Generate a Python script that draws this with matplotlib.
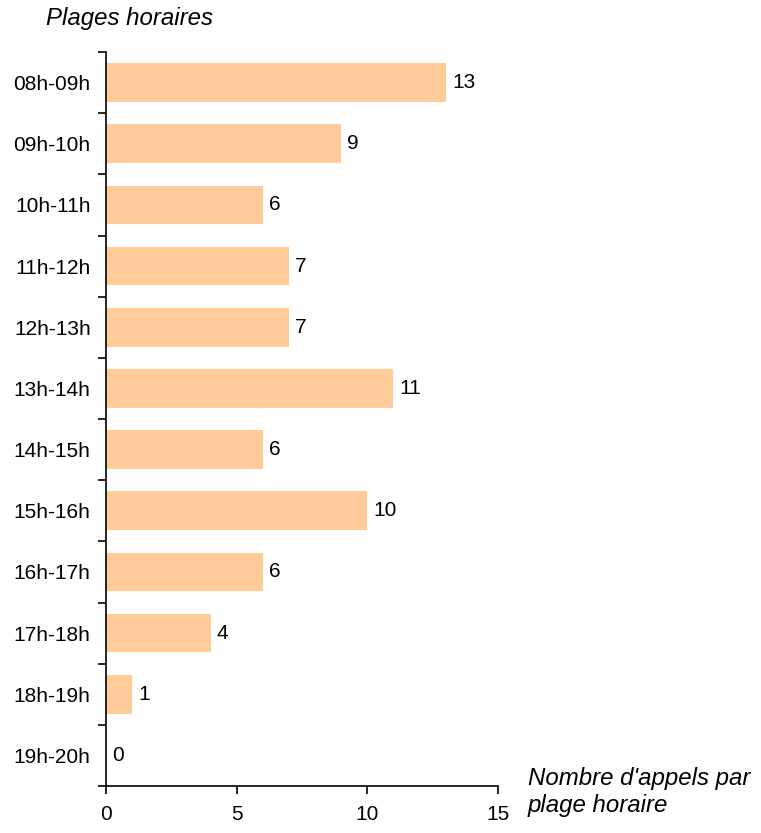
import matplotlib
matplotlib.use("Agg")
import matplotlib.pyplot as plt
import numpy as np

plt.rcParams['font.family'] = ['Liberation Sans', 'DejaVu Sans']

plages = ["08h-09h", "09h-10h", "10h-11h", "11h-12h", "12h-13h", "13h-14h",
          "14h-15h", "15h-16h", "16h-17h", "17h-18h", "18h-19h", "19h-20h"]
appels = [13, 9, 6, 7, 7, 11, 6, 10, 6, 4, 1, 0]
xticks = [0, 5, 10, 15]

fig = plt.figure(figsize=(7.61, 8.33), dpi=100)
ax = fig.add_axes([106/761, 47/833, 392/761, 734/833])

y = np.arange(len(plages))
ax.barh(y, appels, height=0.63, color="#FFCC99", zorder=2)
for yi, v in zip(y, appels):
    ax.annotate(str(v), (v, yi), xytext=(4.5, 0), textcoords="offset points",
                va="center", ha="left", fontsize=15)

ax.set_ylim(len(plages) - 0.5, -0.5)
ax.set_xlim(0, 15)
ax.set_xticks(xticks)
ax.set_yticks(y)
ax.set_yticklabels(plages)
ax.set_yticks(np.arange(len(plages) + 1) - 0.5, minor=True)
ax.tick_params(axis='y', which='major', length=0, pad=11, labelsize=15)
ax.tick_params(axis='y', which='minor', length=6, width=1.2, direction='out')
ax.tick_params(axis='x', length=6, width=1.2, direction='out', pad=8, labelsize=15)
ax.spines['top'].set_visible(False)
ax.spines['right'].set_visible(False)
ax.spines['left'].set_linewidth(1.2)
ax.spines['bottom'].set_linewidth(1.2)

fig.text(46/761, 1 - 18/833, "Plages horaires", fontsize=17.3, style='italic',
         ha='left', va='center')
fig.text(528/761, 1 - 792/833, "Nombre d'appels par\nplage horaire", fontsize=17.3,
         style='italic', ha='left', va='center', linespacing=1.2)

fig.savefig("out.png", dpi=100)
